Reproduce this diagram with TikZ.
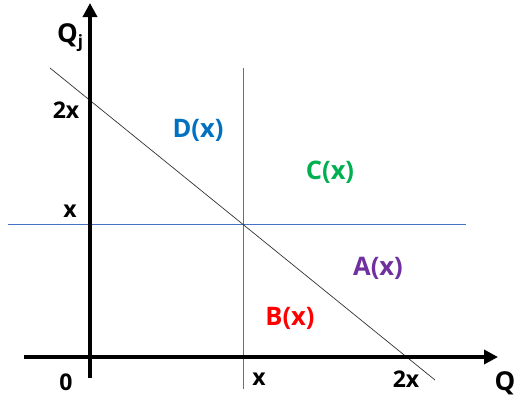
\documentclass[tikz,border=0pt]{standalone}
\usepackage{fontspec}
\setmainfont{Open Sans}
\usetikzlibrary{arrows.meta}
\definecolor{lblue}{RGB}{68,114,196}
\definecolor{dblue}{RGB}{0,112,192}
\definecolor{dgreen}{RGB}{0,176,80}
\definecolor{dpurple}{RGB}{112,48,160}
\definecolor{dred}{RGB}{255,0,0}
\tikzset{
  axis/.style={line width=4pt,-{Triangle[length=14pt,width=14pt]}},
  guide/.style={draw=lblue,line width=0.7pt},
  diag/.style={draw=black!80,line width=0.7pt},
  tick/.style={font=\fontsize{23}{26}\selectfont\bfseries,inner sep=0pt},
  region/.style={font=\fontsize{25.5}{28}\selectfont\bfseries,inner sep=0pt}
}
\begin{document}
\begin{tikzpicture}[x=1pt,y=-1pt]
\useasboundingbox (0,0) rectangle (517,408);
\coordinate (vb) at (90,378);
\coordinate (vt) at (90,3);
\coordinate (hl) at (24,357);
\coordinate (hr) at (498,357);
\coordinate (gvt) at (243,68);
\coordinate (gvb) at (243,389);
\coordinate (ghl) at (8,224);
\coordinate (ghr) at (466,224);
\coordinate (d1) at (50,68);
\coordinate (d2) at (435,380);
\draw[guide] (gvt) -- (gvb);
\draw[guide] (ghl) -- (ghr);
\draw[diag] (d1) -- (d2);
\draw[axis] (vb) -- (vt);
\draw[axis] (hl) -- (hr);
\node[tick,font=\fontsize{26}{29}\selectfont\bfseries] (qj) at (70,38) {Q\raisebox{-0.35ex}{\fontsize{17}{19}\selectfont\bfseries j}};
\node[tick,font=\fontsize{26}{29}\selectfont\bfseries] (q) at (505,383) {Q};
\node[tick] (y2x) at (66,110) {2x};
\node[tick] (yx) at (70,211) {x};
\node[tick] (o) at (66,382) {0};
\node[tick] (xx) at (259,379) {x};
\node[tick] (x2x) at (406,379) {2x};
\node[region,text=dblue] (D) at (198,130) {D(x)};
\node[region,text=dgreen] (C) at (330,172) {C(x)};
\node[region,text=dpurple] (A) at (378,268) {A(x)};
\node[region,text=dred] (B) at (290,318) {B(x)};
\end{tikzpicture}
\end{document}
